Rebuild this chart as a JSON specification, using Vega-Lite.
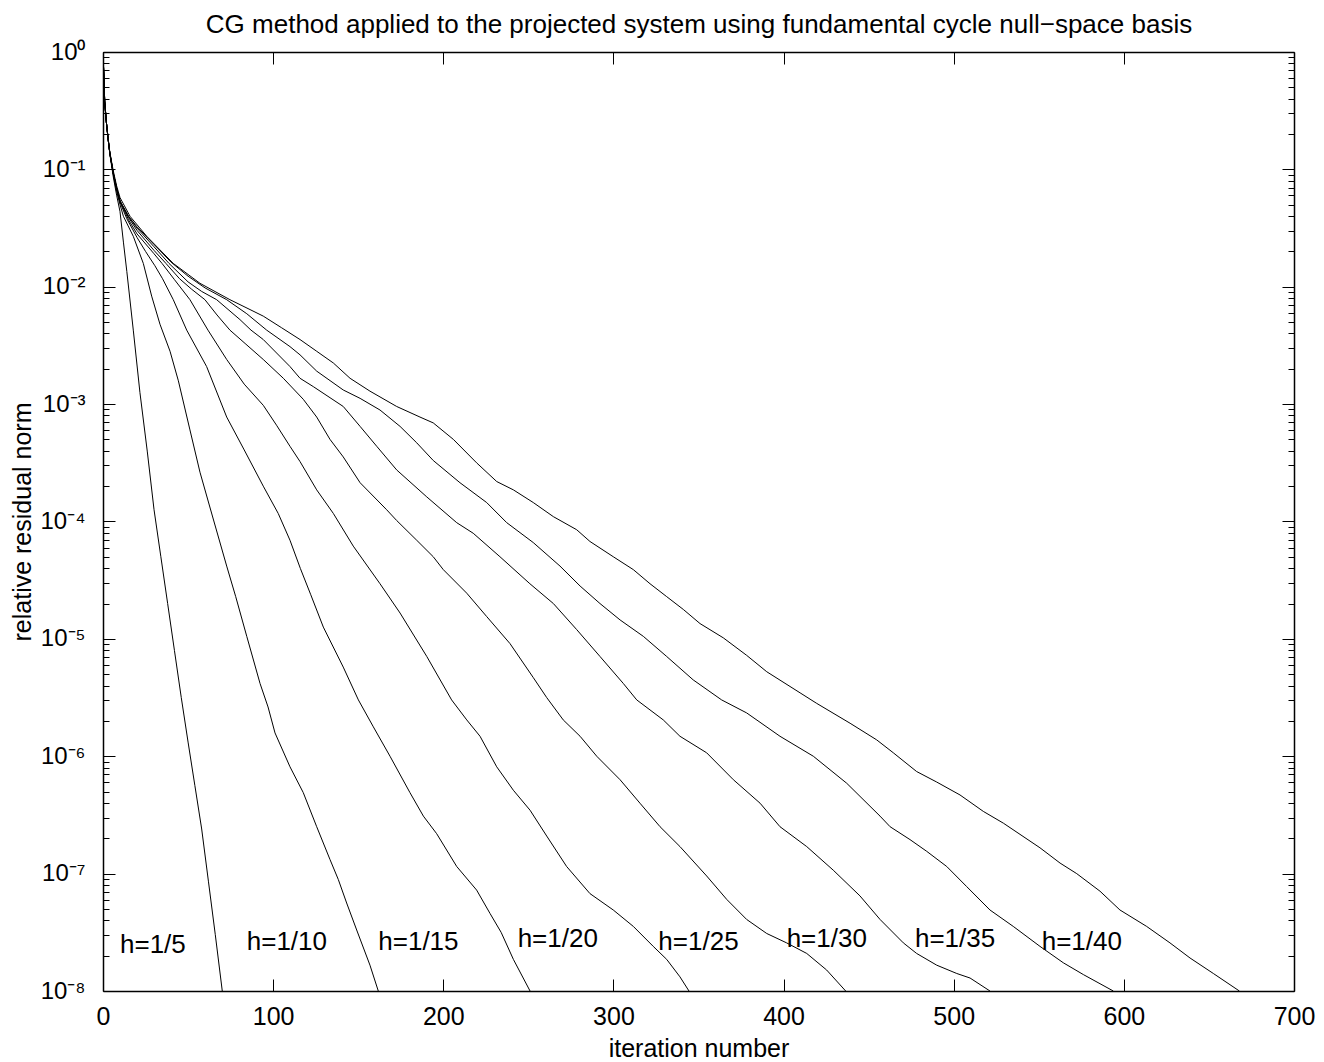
{
  "$schema": "https://vega.github.io/schema/vega-lite/v6.json",
  "width": 1191,
  "height": 939,
  "autosize": {"type": "none"},
  "padding": {"left": 103, "top": 52, "right": 30, "bottom": 71},
  "background": "white",
  "config": {"font": "Liberation Sans", "view": {"stroke": null}},
  "layer": [
    {
      "data": {"values": [
        {"h":"1/5","i":0,"r":1},{"h":"1/5","i":1,"r":0.380},{"h":"1/5","i":2,"r":0.251},{"h":"1/5","i":3,"r":0.182},{"h":"1/5","i":4,"r":0.135},{"h":"1/5","i":6,"r":0.0871},{"h":"1/5","i":8,"r":0.0603},{"h":"1/5","i":10,"r":0.0437},{"h":"1/5","i":12,"r":0.0240},{"h":"1/5","i":14,"r":0.0135},{"h":"1/5","i":17.8,"r":0.00427},{"h":"1/5","i":21.7,"r":0.00126},{"h":"1/5","i":26,"r":3.98e-4},{"h":"1/5","i":30,"r":1.26e-4},{"h":"1/5","i":34,"r":5.01e-5},{"h":"1/5","i":38,"r":2.00e-5},{"h":"1/5","i":42,"r":7.94e-6},{"h":"1/5","i":46,"r":3.16e-6},{"h":"1/5","i":50,"r":1.32e-6},{"h":"1/5","i":54,"r":5.62e-7},{"h":"1/5","i":58,"r":2.40e-7},{"h":"1/5","i":62,"r":8.51e-8},{"h":"1/5","i":66,"r":3.02e-8},{"h":"1/5","i":70.1,"r":1e-8},
        {"h":"1/10","i":0,"r":1},{"h":"1/10","i":1,"r":0.380},{"h":"1/10","i":2,"r":0.251},{"h":"1/10","i":3,"r":0.182},{"h":"1/10","i":4,"r":0.138},{"h":"1/10","i":6,"r":0.0912},{"h":"1/10","i":8,"r":0.0646},{"h":"1/10","i":10,"r":0.0501},{"h":"1/10","i":12,"r":0.0398},{"h":"1/10","i":17.8,"r":0.0269},{"h":"1/10","i":23.7,"r":0.0158},{"h":"1/10","i":28.6,"r":0.00832},{"h":"1/10","i":33.5,"r":0.00479},{"h":"1/10","i":39.4,"r":0.00282},{"h":"1/10","i":44.3,"r":0.00158},{"h":"1/10","i":51.1,"r":6.03e-4},{"h":"1/10","i":57,"r":2.63e-4},{"h":"1/10","i":64.8,"r":1.05e-4},{"h":"1/10","i":72.7,"r":4.17e-5},{"h":"1/10","i":78,"r":2.29e-5},{"h":"1/10","i":84.5,"r":1.05e-5},{"h":"1/10","i":92.3,"r":4.17e-6},{"h":"1/10","i":97,"r":2.63e-6},{"h":"1/10","i":101.1,"r":1.58e-6},{"h":"1/10","i":109.9,"r":8.13e-7},{"h":"1/10","i":117.7,"r":4.90e-7},{"h":"1/10","i":125.6,"r":2.51e-7},{"h":"1/10","i":133.4,"r":1.32e-7},{"h":"1/10","i":138.3,"r":8.91e-8},{"h":"1/10","i":143.2,"r":5.62e-8},{"h":"1/10","i":149.1,"r":3.31e-8},{"h":"1/10","i":156.9,"r":1.66e-8},{"h":"1/10","i":161.8,"r":1e-8},
        {"h":"1/15","i":0,"r":1},{"h":"1/15","i":1,"r":0.380},{"h":"1/15","i":2,"r":0.251},{"h":"1/15","i":3,"r":0.182},{"h":"1/15","i":4,"r":0.138},{"h":"1/15","i":6,"r":0.0933},{"h":"1/15","i":8,"r":0.0676},{"h":"1/15","i":10,"r":0.0525},{"h":"1/15","i":14,"r":0.0380},{"h":"1/15","i":20,"r":0.0263},{"h":"1/15","i":25,"r":0.0200},{"h":"1/15","i":30.5,"r":0.0151},{"h":"1/15","i":35,"r":0.0117},{"h":"1/15","i":41.3,"r":0.00776},{"h":"1/15","i":49.2,"r":0.00427},{"h":"1/15","i":60.9,"r":0.00209},{"h":"1/15","i":72.7,"r":7.76e-4},{"h":"1/15","i":83,"r":4.07e-4},{"h":"1/15","i":94.2,"r":2.00e-4},{"h":"1/15","i":103,"r":1.17e-4},{"h":"1/15","i":109.9,"r":6.92e-5},{"h":"1/15","i":116,"r":3.98e-5},{"h":"1/15","i":122,"r":2.40e-5},{"h":"1/15","i":129.5,"r":1.26e-5},{"h":"1/15","i":141.2,"r":5.75e-6},{"h":"1/15","i":150.1,"r":3.02e-6},{"h":"1/15","i":158.9,"r":1.78e-6},{"h":"1/15","i":168.7,"r":1e-6},{"h":"1/15","i":180.4,"r":4.90e-7},{"h":"1/15","i":188.3,"r":3.09e-7},{"h":"1/15","i":196.1,"r":2.19e-7},{"h":"1/15","i":207.9,"r":1.15e-7},{"h":"1/15","i":219.6,"r":7.24e-8},{"h":"1/15","i":227.5,"r":4.57e-8},{"h":"1/15","i":234,"r":3.16e-8},{"h":"1/15","i":241.2,"r":1.86e-8},{"h":"1/15","i":251,"r":1e-8},
        {"h":"1/20","i":0,"r":1},{"h":"1/20","i":1,"r":0.380},{"h":"1/20","i":2,"r":0.251},{"h":"1/20","i":3,"r":0.182},{"h":"1/20","i":4,"r":0.138},{"h":"1/20","i":6,"r":0.0933},{"h":"1/20","i":8,"r":0.0692},{"h":"1/20","i":10,"r":0.0537},{"h":"1/20","i":15,"r":0.0372},{"h":"1/20","i":20,"r":0.0282},{"h":"1/20","i":30,"r":0.0191},{"h":"1/20","i":34.7,"r":0.0158},{"h":"1/20","i":42,"r":0.0115},{"h":"1/20","i":51.1,"r":0.00776},{"h":"1/20","i":61.7,"r":0.00427},{"h":"1/20","i":72.7,"r":0.00240},{"h":"1/20","i":83,"r":0.00148},{"h":"1/20","i":94.2,"r":9.77e-4},{"h":"1/20","i":102,"r":6.61e-4},{"h":"1/20","i":109.9,"r":4.37e-4},{"h":"1/20","i":115.8,"r":3.24e-4},{"h":"1/20","i":125.6,"r":1.86e-4},{"h":"1/20","i":135.4,"r":1.17e-4},{"h":"1/20","i":147.1,"r":6.17e-5},{"h":"1/20","i":162.8,"r":2.95e-5},{"h":"1/20","i":174.6,"r":1.66e-5},{"h":"1/20","i":190.3,"r":7.08e-6},{"h":"1/20","i":204.9,"r":3.02e-6},{"h":"1/20","i":213.8,"r":2.04e-6},{"h":"1/20","i":221.6,"r":1.48e-6},{"h":"1/20","i":231.4,"r":8.13e-7},{"h":"1/20","i":241.2,"r":5.13e-7},{"h":"1/20","i":251,"r":3.47e-7},{"h":"1/20","i":260.8,"r":2.09e-7},{"h":"1/20","i":272.5,"r":1.15e-7},{"h":"1/20","i":286.2,"r":6.76e-8},{"h":"1/20","i":299.9,"r":4.90e-8},{"h":"1/20","i":311.7,"r":3.55e-8},{"h":"1/20","i":323.4,"r":2.40e-8},{"h":"1/20","i":331.3,"r":1.86e-8},{"h":"1/20","i":339.1,"r":1.32e-8},{"h":"1/20","i":344.4,"r":1e-8},
        {"h":"1/25","i":0,"r":1},{"h":"1/25","i":1,"r":0.380},{"h":"1/25","i":2,"r":0.251},{"h":"1/25","i":3,"r":0.182},{"h":"1/25","i":4,"r":0.138},{"h":"1/25","i":6,"r":0.0933},{"h":"1/25","i":8,"r":0.0692},{"h":"1/25","i":10,"r":0.0537},{"h":"1/25","i":15,"r":0.0389},{"h":"1/25","i":20,"r":0.0302},{"h":"1/25","i":30,"r":0.0204},{"h":"1/25","i":37,"r":0.0158},{"h":"1/25","i":45,"r":0.0117},{"h":"1/25","i":52,"r":0.00955},{"h":"1/25","i":59.9,"r":0.00776},{"h":"1/25","i":67,"r":0.00575},{"h":"1/25","i":74.6,"r":0.00427},{"h":"1/25","i":84,"r":0.00324},{"h":"1/25","i":94.2,"r":0.00240},{"h":"1/25","i":106,"r":0.00166},{"h":"1/25","i":117.7,"r":0.00110},{"h":"1/25","i":125.6,"r":7.76e-4},{"h":"1/25","i":133.4,"r":5.01e-4},{"h":"1/25","i":141.2,"r":3.55e-4},{"h":"1/25","i":151.1,"r":2.14e-4},{"h":"1/25","i":166.7,"r":1.26e-4},{"h":"1/25","i":172.6,"r":1.02e-4},{"h":"1/25","i":184.4,"r":6.92e-5},{"h":"1/25","i":194.1,"r":5.01e-5},{"h":"1/25","i":200,"r":3.89e-5},{"h":"1/25","i":213.8,"r":2.45e-5},{"h":"1/25","i":225.5,"r":1.55e-5},{"h":"1/25","i":239.2,"r":9.12e-6},{"h":"1/25","i":252.9,"r":4.68e-6},{"h":"1/25","i":260.8,"r":3.16e-6},{"h":"1/25","i":270.5,"r":2.04e-6},{"h":"1/25","i":280.4,"r":1.48e-6},{"h":"1/25","i":290.2,"r":1e-6},{"h":"1/25","i":303.9,"r":6.31e-7},{"h":"1/25","i":315.6,"r":3.98e-7},{"h":"1/25","i":327.4,"r":2.51e-7},{"h":"1/25","i":339.1,"r":1.70e-7},{"h":"1/25","i":354.8,"r":9.55e-8},{"h":"1/25","i":366.6,"r":6.03e-8},{"h":"1/25","i":378.3,"r":4.07e-8},{"h":"1/25","i":390.1,"r":3.09e-8},{"h":"1/25","i":401.8,"r":2.57e-8},{"h":"1/25","i":413.6,"r":2.09e-8},{"h":"1/25","i":425.3,"r":1.51e-8},{"h":"1/25","i":436.5,"r":1e-8},
        {"h":"1/30","i":0,"r":1},{"h":"1/30","i":1,"r":0.380},{"h":"1/30","i":2,"r":0.251},{"h":"1/30","i":3,"r":0.182},{"h":"1/30","i":4,"r":0.138},{"h":"1/30","i":6,"r":0.0933},{"h":"1/30","i":8,"r":0.0692},{"h":"1/30","i":10,"r":0.0537},{"h":"1/30","i":15,"r":0.0398},{"h":"1/30","i":20,"r":0.0316},{"h":"1/30","i":30,"r":0.0219},{"h":"1/30","i":38.8,"r":0.0158},{"h":"1/30","i":50,"r":0.0110},{"h":"1/30","i":58,"r":0.00912},{"h":"1/30","i":66.8,"r":0.00776},{"h":"1/30","i":80.5,"r":0.00525},{"h":"1/30","i":87,"r":0.00427},{"h":"1/30","i":94.2,"r":0.00355},{"h":"1/30","i":109.9,"r":0.00209},{"h":"1/30","i":115.8,"r":0.00166},{"h":"1/30","i":123.6,"r":0.00141},{"h":"1/30","i":141.2,"r":9.55e-4},{"h":"1/30","i":151.1,"r":6.46e-4},{"h":"1/30","i":160.9,"r":4.37e-4},{"h":"1/30","i":172.6,"r":2.75e-4},{"h":"1/30","i":190.3,"r":1.62e-4},{"h":"1/30","i":207.9,"r":9.77e-5},{"h":"1/30","i":217.6,"r":7.94e-5},{"h":"1/30","i":233.3,"r":5.01e-5},{"h":"1/30","i":250.9,"r":2.95e-5},{"h":"1/30","i":264.7,"r":2.00e-5},{"h":"1/30","i":278.4,"r":1.20e-5},{"h":"1/30","i":292.1,"r":7.08e-6},{"h":"1/30","i":305.8,"r":4.17e-6},{"h":"1/30","i":313.7,"r":3.02e-6},{"h":"1/30","i":329.3,"r":2.04e-6},{"h":"1/30","i":339.1,"r":1.48e-6},{"h":"1/30","i":354.8,"r":1.07e-6},{"h":"1/30","i":370.5,"r":6.31e-7},{"h":"1/30","i":386.2,"r":3.98e-7},{"h":"1/30","i":397.9,"r":2.51e-7},{"h":"1/30","i":413.6,"r":1.70e-7},{"h":"1/30","i":429.2,"r":1.07e-7},{"h":"1/30","i":444.9,"r":6.46e-8},{"h":"1/30","i":456.7,"r":4.07e-8},{"h":"1/30","i":470.4,"r":2.57e-8},{"h":"1/30","i":478.2,"r":2.09e-8},{"h":"1/30","i":490,"r":1.66e-8},{"h":"1/30","i":501.8,"r":1.41e-8},{"h":"1/30","i":509.6,"r":1.29e-8},{"h":"1/30","i":521.3,"r":1e-8},
        {"h":"1/35","i":0,"r":1},{"h":"1/35","i":1,"r":0.380},{"h":"1/35","i":2,"r":0.251},{"h":"1/35","i":3,"r":0.182},{"h":"1/35","i":4,"r":0.138},{"h":"1/35","i":6,"r":0.0933},{"h":"1/35","i":8,"r":0.0692},{"h":"1/35","i":10,"r":0.0537},{"h":"1/35","i":15,"r":0.0398},{"h":"1/35","i":20,"r":0.0324},{"h":"1/35","i":30,"r":0.0229},{"h":"1/35","i":40,"r":0.0162},{"h":"1/35","i":50,"r":0.0123},{"h":"1/35","i":60,"r":0.00977},{"h":"1/35","i":72.7,"r":0.00776},{"h":"1/35","i":84.5,"r":0.00589},{"h":"1/35","i":96.2,"r":0.00427},{"h":"1/35","i":109.9,"r":0.00309},{"h":"1/35","i":115.8,"r":0.00263},{"h":"1/35","i":125.6,"r":0.00191},{"h":"1/35","i":141.2,"r":0.00132},{"h":"1/35","i":151.1,"r":0.00112},{"h":"1/35","i":162.8,"r":8.91e-4},{"h":"1/35","i":174.6,"r":6.46e-4},{"h":"1/35","i":184.4,"r":4.68e-4},{"h":"1/35","i":194.1,"r":3.31e-4},{"h":"1/35","i":209.8,"r":2.14e-4},{"h":"1/35","i":225.5,"r":1.45e-4},{"h":"1/35","i":237.3,"r":9.77e-5},{"h":"1/35","i":252.9,"r":6.61e-5},{"h":"1/35","i":268.6,"r":4.17e-5},{"h":"1/35","i":280.4,"r":2.82e-5},{"h":"1/35","i":292.1,"r":2.00e-5},{"h":"1/35","i":303.9,"r":1.45e-5},{"h":"1/35","i":317.6,"r":1.05e-5},{"h":"1/35","i":331.3,"r":7.08e-6},{"h":"1/35","i":346.9,"r":4.47e-6},{"h":"1/35","i":363.6,"r":3.02e-6},{"h":"1/35","i":378.3,"r":2.34e-6},{"h":"1/35","i":397.9,"r":1.48e-6},{"h":"1/35","i":417.5,"r":1e-6},{"h":"1/35","i":437.1,"r":5.89e-7},{"h":"1/35","i":456.7,"r":3.09e-7},{"h":"1/35","i":462.6,"r":2.51e-7},{"h":"1/35","i":474.3,"r":1.95e-7},{"h":"1/35","i":484.1,"r":1.55e-7},{"h":"1/35","i":495.9,"r":1.15e-7},{"h":"1/35","i":507.6,"r":7.76e-8},{"h":"1/35","i":521.3,"r":4.90e-8},{"h":"1/35","i":535,"r":3.55e-8},{"h":"1/35","i":550.7,"r":2.40e-8},{"h":"1/35","i":564.4,"r":1.74e-8},{"h":"1/35","i":576.2,"r":1.38e-8},{"h":"1/35","i":593.8,"r":1e-8},
        {"h":"1/40","i":0,"r":1},{"h":"1/40","i":1,"r":0.355},{"h":"1/40","i":2,"r":0.251},{"h":"1/40","i":3,"r":0.186},{"h":"1/40","i":4,"r":0.141},{"h":"1/40","i":6,"r":0.0977},{"h":"1/40","i":8,"r":0.0724},{"h":"1/40","i":10,"r":0.0575},{"h":"1/40","i":15.9,"r":0.0398},{"h":"1/40","i":25.7,"r":0.0269},{"h":"1/40","i":41.3,"r":0.0158},{"h":"1/40","i":57,"r":0.0107},{"h":"1/40","i":74.6,"r":0.00776},{"h":"1/40","i":94.2,"r":0.00562},{"h":"1/40","i":105,"r":0.00447},{"h":"1/40","i":115.8,"r":0.00355},{"h":"1/40","i":125.6,"r":0.00282},{"h":"1/40","i":135.4,"r":0.00224},{"h":"1/40","i":145.2,"r":0.00166},{"h":"1/40","i":156.9,"r":0.00129},{"h":"1/40","i":172.6,"r":9.55e-4},{"h":"1/40","i":186.3,"r":7.76e-4},{"h":"1/40","i":194.1,"r":6.92e-4},{"h":"1/40","i":205.9,"r":5.01e-4},{"h":"1/40","i":219.6,"r":3.16e-4},{"h":"1/40","i":231.4,"r":2.19e-4},{"h":"1/40","i":241.2,"r":1.86e-4},{"h":"1/40","i":252.9,"r":1.45e-4},{"h":"1/40","i":264.7,"r":1.10e-4},{"h":"1/40","i":278.4,"r":8.51e-5},{"h":"1/40","i":286.2,"r":6.76e-5},{"h":"1/40","i":299.9,"r":5.01e-5},{"h":"1/40","i":311.7,"r":3.89e-5},{"h":"1/40","i":321.5,"r":2.95e-5},{"h":"1/40","i":331.3,"r":2.29e-5},{"h":"1/40","i":341.1,"r":1.78e-5},{"h":"1/40","i":350.9,"r":1.35e-5},{"h":"1/40","i":364.6,"r":1.02e-5},{"h":"1/40","i":378.3,"r":7.24e-6},{"h":"1/40","i":390.1,"r":5.25e-6},{"h":"1/40","i":409.7,"r":3.47e-6},{"h":"1/40","i":419.5,"r":2.82e-6},{"h":"1/40","i":439.1,"r":1.91e-6},{"h":"1/40","i":454.7,"r":1.38e-6},{"h":"1/40","i":464.5,"r":1.07e-6},{"h":"1/40","i":478.2,"r":7.41e-7},{"h":"1/40","i":490,"r":6.03e-7},{"h":"1/40","i":503.7,"r":4.68e-7},{"h":"1/40","i":517.4,"r":3.39e-7},{"h":"1/40","i":529.2,"r":2.69e-7},{"h":"1/40","i":550.7,"r":1.66e-7},{"h":"1/40","i":562.5,"r":1.23e-7},{"h":"1/40","i":572.3,"r":1e-7},{"h":"1/40","i":586,"r":7.08e-8},{"h":"1/40","i":597.7,"r":4.90e-8},{"h":"1/40","i":613.4,"r":3.55e-8},{"h":"1/40","i":627.1,"r":2.57e-8},{"h":"1/40","i":638.9,"r":1.91e-8},{"h":"1/40","i":652.6,"r":1.41e-8},{"h":"1/40","i":667.9,"r":1e-8}
      ]},
      "mark": {"type": "line", "color": "black", "strokeWidth": 1, "clip": true},
      "encoding": {
        "x": {"field": "i", "type": "quantitative",
          "scale": {"domain": [0, 700], "nice": false, "zero": false},
          "axis": {"orient": "bottom", "values": [0,100,200,300,400,500,600,700], "grid": false,
            "title": "iteration number", "titleFontSize": 25, "titleFontWeight": "normal", "titleColor": "black", "titleBaseline": "alphabetic", "titleY": 65,
            "labelFontSize": 25, "labelColor": "black", "labelPadding": 25, "labelFlush": false, "labelOverlap": false, "labelBound": false,
            "tickSize": -12, "tickColor": "black", "tickWidth": 1, "domainColor": "black", "domainWidth": 1.5}},
        "y": {"field": "r", "type": "quantitative",
          "scale": {"type": "log", "domain": [1e-8, 1], "nice": false},
          "axis": {"orient": "left", "grid": false,
            "values": [1e-8,2e-8,3e-8,4e-8,5e-8,6e-8,7e-8,8e-8,9e-8,1e-7,2e-7,3e-7,4e-7,5e-7,6e-7,7e-7,8e-7,9e-7,1e-6,2e-6,3e-6,4e-6,5e-6,6e-6,7e-6,8e-6,9e-6,1e-5,2e-5,3e-5,4e-5,5e-5,6e-5,7e-5,8e-5,9e-5,1e-4,2e-4,3e-4,4e-4,5e-4,6e-4,7e-4,8e-4,9e-4,1e-3,2e-3,3e-3,4e-3,5e-3,6e-3,7e-3,8e-3,9e-3,1e-2,2e-2,3e-2,4e-2,5e-2,6e-2,7e-2,8e-2,9e-2,0.1,0.2,0.3,0.4,0.5,0.6,0.7,0.8,0.9,1],
            "labelExpr": "abs(log(datum.value)/LN10 - round(log(datum.value)/LN10)) < 0.001 ? '10' + ['⁰','⁻¹','⁻²','⁻³','⁻⁴','⁻⁵','⁻⁶','⁻⁷','⁻⁸'][round(-log(datum.value)/LN10)] : ''",
            "title": "relative residual norm", "titleFontSize": 25, "titleFontWeight": "normal", "titleColor": "black", "titleBaseline": "alphabetic", "titleX": -73,
            "labelFontSize": 24, "labelColor": "black", "labelPadding": 30, "labelFlush": false, "labelOverlap": false, "labelBound": false,
            "tickSize": {"condition": {"test": "abs(log(datum.value)/LN10 - round(log(datum.value)/LN10)) < 0.001", "value": -12}, "value": -6},
            "tickColor": "black", "tickWidth": 1, "domainColor": "black", "domainWidth": 1.5}},
        "detail": {"field": "h", "type": "nominal"}
      }
    },
    {
      "data": {"values": [
        {"label": "h=1/5", "i": 9.99, "r": 2.10e-8},
        {"label": "h=1/10", "i": 84.5, "r": 2.24e-8},
        {"label": "h=1/15", "i": 161.8, "r": 2.24e-8},
        {"label": "h=1/20", "i": 243.7, "r": 2.39e-8},
        {"label": "h=1/25", "i": 326.4, "r": 2.24e-8},
        {"label": "h=1/30", "i": 401.8, "r": 2.39e-8},
        {"label": "h=1/35", "i": 477.2, "r": 2.39e-8},
        {"label": "h=1/40", "i": 551.7, "r": 2.24e-8}
      ]},
      "mark": {"type": "text", "align": "left", "baseline": "alphabetic", "fontSize": 26, "color": "black"},
      "encoding": {
        "x": {"field": "i", "type": "quantitative",
          "scale": {"domain": [0, 700], "nice": false, "zero": false},
          "axis": {"orient": "top", "values": [0,100,200,300,400,500,600,700], "grid": false, "labels": false,
            "title": "CG method applied to the projected system using fundamental cycle null−space basis",
            "titleFontSize": 26, "titleFontWeight": "normal", "titleColor": "black", "titleBaseline": "alphabetic", "titleY": -20,
            "tickSize": -12, "tickColor": "black", "tickWidth": 1, "domainColor": "black", "domainWidth": 1.5}},
        "y": {"field": "r", "type": "quantitative",
          "scale": {"type": "log", "domain": [1e-8, 1], "nice": false},
          "axis": {"orient": "right", "grid": false, "labels": false, "title": null,
            "values": [1e-8,2e-8,3e-8,4e-8,5e-8,6e-8,7e-8,8e-8,9e-8,1e-7,2e-7,3e-7,4e-7,5e-7,6e-7,7e-7,8e-7,9e-7,1e-6,2e-6,3e-6,4e-6,5e-6,6e-6,7e-6,8e-6,9e-6,1e-5,2e-5,3e-5,4e-5,5e-5,6e-5,7e-5,8e-5,9e-5,1e-4,2e-4,3e-4,4e-4,5e-4,6e-4,7e-4,8e-4,9e-4,1e-3,2e-3,3e-3,4e-3,5e-3,6e-3,7e-3,8e-3,9e-3,1e-2,2e-2,3e-2,4e-2,5e-2,6e-2,7e-2,8e-2,9e-2,0.1,0.2,0.3,0.4,0.5,0.6,0.7,0.8,0.9,1],
            "tickSize": {"condition": {"test": "abs(log(datum.value)/LN10 - round(log(datum.value)/LN10)) < 0.001", "value": -12}, "value": -6},
            "tickColor": "black", "tickWidth": 1, "domainColor": "black", "domainWidth": 1.5}},
        "text": {"field": "label", "type": "nominal"}
      }
    }
  ],
  "resolve": {"axis": {"x": "independent", "y": "independent"}}
}
